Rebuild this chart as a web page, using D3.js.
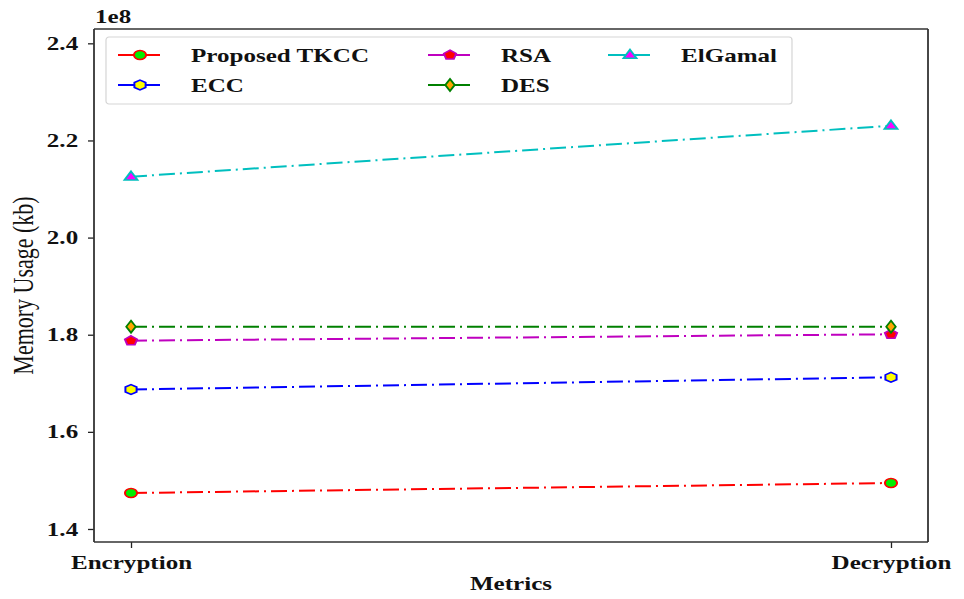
<!DOCTYPE html>
<html>
<head>
<meta charset="utf-8">
<script src="https://cdn.jsdelivr.net/npm/d3@7"></script>
<style>
  html, body { margin: 0; padding: 0; background: #fff; }
  svg { display: block; }
  text { font-family: "Liberation Serif", "Times New Roman", serif; }
</style>
</head>
<body>
<div id="chart"></div>
<script>
// Memory usage per operation, in units of 1e8 kb
const categories = ["Encryption", "Decryption"];
const seriesNames = ["Proposed TKCC", "ECC", "RSA", "DES", "ElGamal"];
const tkccValues    = [1.4741, 1.4947];
const eccValues     = [1.6872, 1.7123];
const rsaValues     = [1.7877, 1.8009];
const desValues     = [1.8165, 1.8165];
const elgamalValues = [2.1253, 2.2303];
const yTicks = [1.4, 1.6, 1.8, 2.0, 2.2, 2.4];

const lineColors = ["#ff0000", "#0000ff", "#bf00bf", "#008000", "#00bfbf"];
const fillColors = ["#00ee00", "#ffff00", "#ff0000", "#ffa500", "#ff00ff"];
const markerKinds = ["circle", "hexagon", "pentagon", "diamond", "triangle"];

const series = seriesNames.map((name, i) => ({
  name,
  values: [tkccValues, eccValues, rsaValues, desValues, elgamalValues][i],
  line: lineColors[i],
  fill: fillColors[i],
  marker: markerKinds[i]
}));

// glyphs and markers are drawn with a wide horizontal aspect
const SX = 1.32;

const W = 964, H = 599;
const m = { left: 94, right: 36, top: 29, bottom: 57 };
const iw = W - m.left - m.right, ih = H - m.top - m.bottom;

const svg = d3.select("#chart").append("svg").attr("width", W).attr("height", H);
const g = svg.append("g").attr("transform", `translate(${m.left},${m.top})`);

const x = d3.scaleLinear().domain([-0.0487, 1.0487]).range([0, iw]);
const y = d3.scaleLinear().domain([1.3732, 2.4295]).range([ih, 0]);

function poly(n, r) {
  return d3.range(n).map(k => {
    const a = -Math.PI / 2 + k * 2 * Math.PI / n;
    return (k ? "L" : "M") + (r * Math.cos(a)).toFixed(2) + "," + (r * Math.sin(a)).toFixed(2);
  }).join("") + "Z";
}
function markerPath(kind) {
  switch (kind) {
    case "circle": return d3.symbol(d3.symbolCircle, Math.PI * 4.6 * 4.6)();
    case "triangle": return "M0,-5.4L5,3.3L-5,3.3Z";
    case "diamond": return "M0,-6L3.6,0L0,6L-3.6,0Z";
    case "pentagon": return poly(5, 4.9);
    case "hexagon": return poly(6, 4.9);
  }
}

// axes
const xAxis = d3.axisBottom(x).tickValues([0, 1]).tickFormat(i => categories[i]).tickSize(6).tickPadding(5);
const yAxis = d3.axisLeft(y).tickValues(yTicks).tickFormat(d3.format(".1f")).tickSize(6).tickPadding(6);

const gx = g.append("g").attr("transform", `translate(0,${ih})`).call(xAxis);
const gy = g.append("g").call(yAxis);
[gx, gy].forEach(a => {
  a.select(".domain").remove();
  a.selectAll(".tick line").attr("stroke", "#222").attr("stroke-width", 1.3);
  a.selectAll(".tick text").attr("fill", "#111").attr("font-size", 19).attr("font-weight", "bold")
    .attr("font-family", "'Liberation Serif', serif")
    .attr("transform", `scale(${SX},1)`);
});
gx.selectAll(".tick text").attr("dy", "0.85em");

// frame
g.append("g").attr("stroke", "#333").selectAll("line")
  .data([[0, 0, iw, 0, 1.3], [0, ih, iw, ih, 1.3], [0, 0, 0, ih, 1.8], [iw, 0, iw, ih, 1.8]])
  .join("line")
  .attr("x1", d => d[0]).attr("y1", d => d[1]).attr("x2", d => d[2]).attr("y2", d => d[3])
  .attr("stroke-width", d => d[4]);

// lines
const line = d3.line().x((d, i) => x(i)).y(d => y(d));
series.forEach(s => {
  g.append("path").datum(s.values).attr("d", line)
    .attr("fill", "none").attr("stroke", s.line).attr("stroke-width", 2)
    .attr("stroke-dasharray", "16,5,2,5");
});
series.forEach(s => {
  g.selectAll(null).data(s.values).join("path")
    .attr("d", markerPath(s.marker))
    .attr("transform", (d, i) => `translate(${x(i)},${y(d)}) scale(${SX},1)`)
    .attr("fill", s.fill).attr("stroke", s.line).attr("stroke-width", 1.5);
});

// legend
const lg = svg.append("g").attr("transform", "translate(106,37)");
lg.append("rect").attr("width", 686).attr("height", 67).attr("rx", 3)
  .attr("fill", "#fff").attr("fill-opacity", 0.8).attr("stroke", "#d5d5d5").attr("stroke-width", 1.2);
const cols = [12, 322, 502];
series.forEach((s, i) => {
  const col = Math.floor(i / 2), row = i % 2;
  const item = lg.append("g").attr("transform", `translate(${cols[col]},${18 + row * 30})`);
  item.append("line").attr("x1", 0).attr("x2", 42).attr("stroke", s.line).attr("stroke-width", 2);
  item.append("path").attr("d", markerPath(s.marker)).attr("transform", `translate(22,0) scale(${SX},1)`)
    .attr("fill", s.fill).attr("stroke", s.line).attr("stroke-width", 1.5);
  item.append("text").attr("transform", `translate(73,0) scale(${SX},1)`).attr("dy", "0.35em")
    .attr("font-size", 19).attr("font-weight", "bold").attr("fill", "#111").text(s.name);
});

// labels
svg.append("text").attr("transform", `translate(${m.left + 1},23) scale(${SX},1)`)
  .attr("font-size", 19).attr("font-weight", "bold").attr("fill", "#111").text("1e8");
svg.append("text").attr("transform", `translate(${m.left + iw / 2},590) scale(${SX},1)`)
  .attr("text-anchor", "middle").attr("font-size", 19).attr("font-weight", "bold").attr("fill", "#111").text("Metrics");
svg.append("text").attr("transform", `translate(33,${m.top + ih / 2}) scale(${SX},1) rotate(-90)`)
  .attr("text-anchor", "middle").attr("font-size", 22).attr("fill", "#111").text("Memory Usage (kb)");
</script>
</body>
</html>
